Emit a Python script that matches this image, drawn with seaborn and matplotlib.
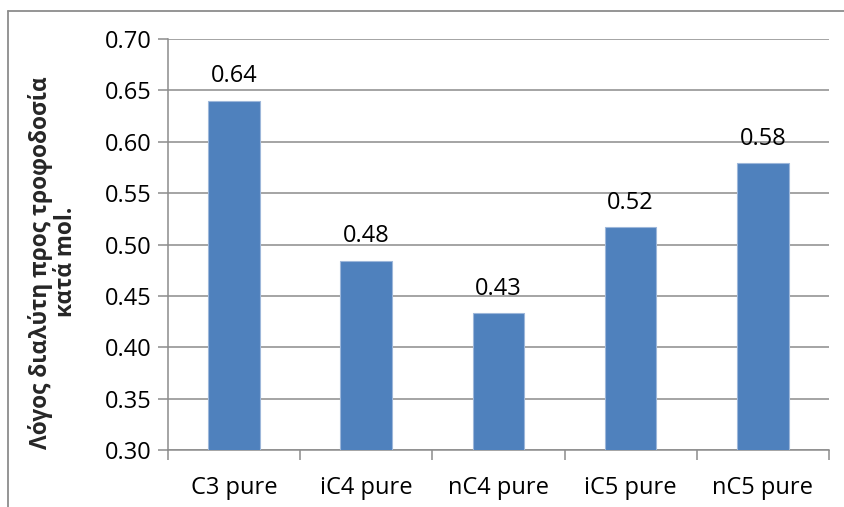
import matplotlib
matplotlib.use("Agg")
import matplotlib.pyplot as plt
from matplotlib.lines import Line2D
from matplotlib.ticker import MultipleLocator, FixedLocator
import seaborn as sns
import pandas as pd

# Solvent-to-feed molar ratio per pure feed component
categories = ["C3 pure", "iC4 pure", "nC4 pure", "iC5 pure", "nC5 pure"]
ratios = [0.640, 0.484, 0.433, 0.517, 0.579]
y_label = "Λόγος διαλύτη προς τροφοδοσία\nκατά mol."

sns.set_theme(style="white")
plt.rcParams["font.family"] = ["Open Sans", "DejaVu Sans"]

FS = 17

df = pd.DataFrame({"component": categories, "ratio": ratios})

fig = plt.figure(figsize=(8.45, 5.07), dpi=100)
ax = fig.add_axes([0.1988, 0.1124, 0.7822, 0.8106])

sns.barplot(data=df, x="component", y="ratio", color="#4F81BD",
            saturation=1, width=0.39, edgecolor="#9DB7DA", linewidth=0.8,
            ax=ax, zorder=3)

ax.set_ylim(0.30, 0.70)
ax.set_xlim(-0.5, len(categories) - 0.5)
ax.yaxis.set_major_locator(MultipleLocator(0.05))
ax.yaxis.set_major_formatter(plt.FuncFormatter(lambda v, p: f"{v:.2f}"))
ax.grid(axis="y", color="#8C8C8C", linewidth=1.1, zorder=0)
ax.set_axisbelow(True)

for s in ["top", "right"]:
    ax.spines[s].set_visible(False)
for s in ["left", "bottom"]:
    ax.spines[s].set_color("#8C8C8C")
    ax.spines[s].set_linewidth(1.1)

ax.tick_params(axis="y", length=7, width=1.1, color="#8C8C8C",
               labelsize=FS, pad=5, labelcolor="black", left=True)
ax.tick_params(axis="x", which="major", length=0, labelsize=FS, pad=19,
               labelcolor="black")
ax.xaxis.set_minor_locator(FixedLocator([i - 0.5 for i in range(len(categories) + 1)]))
ax.tick_params(axis="x", which="minor", length=7, width=1.1, color="#8C8C8C",
               bottom=True)

ax.set_xlabel("")
ax.set_ylabel(y_label, fontsize=16.3, fontweight="bold", labelpad=19,
              linespacing=1.05)
ax.yaxis.label.set_y(0.457)

for i, v in enumerate(ratios):
    ax.annotate(f"{v:.2f}", (i, v), xytext=(0, 9), textcoords="offset points",
                ha="center", va="bottom", fontsize=FS, color="black")

# chart frame
fig.add_artist(Line2D([8 / 845, 1.0], [1 - 11 / 507, 1 - 11 / 507],
                      transform=fig.transFigure, color="#8C8C8C", linewidth=1.3))
fig.add_artist(Line2D([8 / 845, 8 / 845], [0.0, 1 - 11 / 507],
                      transform=fig.transFigure, color="#8C8C8C", linewidth=1.3))

fig.savefig("out.png", dpi=100, facecolor="white")
